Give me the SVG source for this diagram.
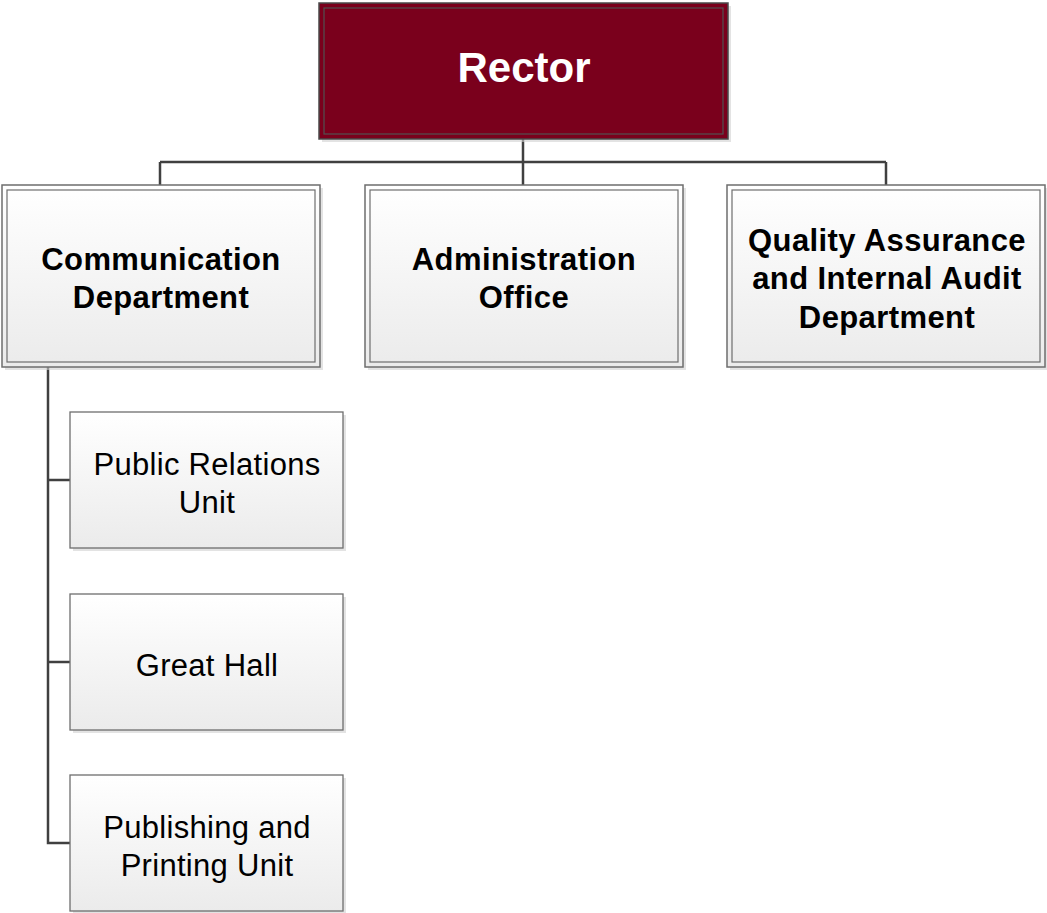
<svg xmlns="http://www.w3.org/2000/svg" width="1047" height="913" viewBox="0 0 1047 913">
<style>
.conn{fill:none;stroke:#404040;stroke-width:2.5}
.shadow{fill:#d0d0d0;opacity:0.6}
.outer{fill:url(#g);stroke:#6e6e6e;stroke-width:1.5}
.inner{fill:none;stroke:#6e6e6e;stroke-width:1.2}
.sub{fill:url(#g);stroke:#6e6e6e;stroke-width:1.3}
.bt{font-family:"Liberation Sans",Arial,sans-serif;font-weight:bold;font-size:31px;letter-spacing:0.4px;text-anchor:middle;fill:#000}
.rt{font-family:"Liberation Sans",Arial,sans-serif;font-size:31px;letter-spacing:0.3px;text-anchor:middle;fill:#000}
</style>
<defs>
<linearGradient id="g" x1="0" y1="0" x2="0" y2="1">
<stop offset="0" stop-color="#ffffff"/>
<stop offset="1" stop-color="#ebebeb"/>
</linearGradient>
</defs>
<rect width="1047" height="913" fill="#ffffff"/>
<g id="connectors">
<path class="conn" d="M523 139 V185 M160 162 H886 M160 162 V185 M886 162 V185"/>
<path class="conn" d="M48 367 V843 H70 M48 480 H70 M48 662 H70"/>
</g>
<g id="rector">
<rect x="322" y="6" width="409" height="136" class="shadow"/>
<rect x="319" y="3" width="409" height="136" fill="#7a001c" stroke="#4a4a4a" stroke-width="1.5"/>
<rect x="324" y="8" width="399" height="126" fill="none" stroke="#505050" stroke-width="1.2"/>
<text x="524" y="82" font-family="Liberation Sans,Arial,sans-serif" font-weight="bold" font-size="42" fill="#ffffff" text-anchor="middle">Rector</text>
</g>
<g id="communication">
<rect x="5" y="188" width="318" height="182" class="shadow"/>
<rect x="2" y="185" width="318" height="182" class="outer"/>
<rect x="7" y="190" width="308" height="172" class="inner"/>
<text class="bt" x="161" y="270">Communication</text>
<text class="bt" x="161" y="308">Department</text>
</g>
<g id="administration">
<rect x="368" y="188" width="318" height="182" class="shadow"/>
<rect x="365" y="185" width="318" height="182" class="outer"/>
<rect x="370" y="190" width="308" height="172" class="inner"/>
<text class="bt" x="524" y="270">Administration</text>
<text class="bt" x="524" y="308">Office</text>
</g>
<g id="quality">
<rect x="730" y="188" width="318" height="182" class="shadow"/>
<rect x="727" y="185" width="318" height="182" class="outer"/>
<rect x="732" y="190" width="308" height="172" class="inner"/>
<text class="bt" x="887" y="251">Quality Assurance</text>
<text class="bt" x="887" y="289">and Internal Audit</text>
<text class="bt" x="887" y="328">Department</text>
</g>
<g id="public-relations">
<rect x="73" y="415" width="273" height="136" class="shadow"/>
<rect x="70" y="412" width="273" height="136" class="sub"/>
<text class="rt" x="207" y="475">Public Relations</text>
<text class="rt" x="207" y="513">Unit</text>
</g>
<g id="great-hall">
<rect x="73" y="597" width="273" height="136" class="shadow"/>
<rect x="70" y="594" width="273" height="136" class="sub"/>
<text class="rt" x="207" y="676">Great Hall</text>
</g>
<g id="publishing">
<rect x="73" y="778" width="273" height="135" class="shadow"/>
<rect x="70" y="775" width="273" height="136" class="sub"/>
<text class="rt" x="207" y="838">Publishing and</text>
<text class="rt" x="207" y="876">Printing Unit</text>
</g>
</svg>
